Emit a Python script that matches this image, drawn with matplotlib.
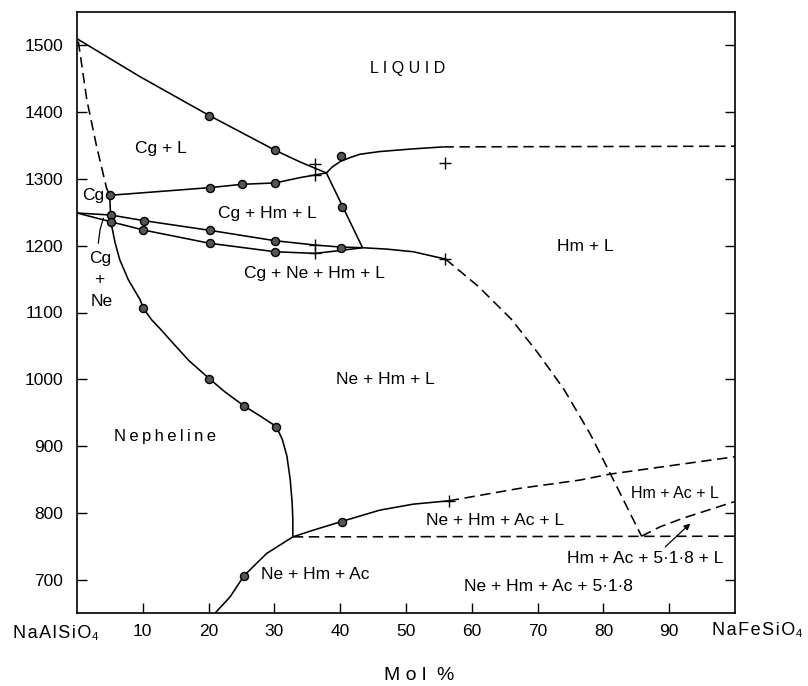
import matplotlib
matplotlib.use("Agg")
import matplotlib.pyplot as plt

plt.rcParams['font.family'] = ['Liberation Sans', 'DejaVu Sans']

# ---------------- data (mol % NaFeSiO4, temperature °C) ----------------
# Cg + L liquidus (solid)
cg_liq_x = [0, 9.6, 20.1, 30.1, 34.0, 37.9]
cg_liq_t = [1510, 1453, 1395, 1343, 1325, 1309]

# Dashed Cg solidus from NaAlSiO4 melting point to Cg point
cg_sol_x = [0.2, 1.5, 3.0, 4.5, 4.97]
cg_sol_t = [1506, 1418, 1348, 1286, 1275.5]
# short solid link Cg point -> Ne/Cg dots
cg_link_x = [4.97, 5.1]
cg_link_t = [1275.5, 1246]

# upper boundary of Cg + Hm + L (solid)
cghm_x = [4.97, 20.2, 25.1, 30.1, 33.9, 37.9]
cghm_t = [1275.5, 1287, 1292, 1294, 1302, 1309]

# Liquid / Hm + L boundary: solid part then dashed part
hm_liq_x = [37.9, 38.8, 40.0, 41.5, 43.0, 46.0, 51.0, 55.7]
hm_liq_t = [1309, 1318, 1326, 1332, 1337, 1341, 1345, 1348]
hm_liq_dash_x = [55.7, 100]
hm_liq_dash_t = [1348, 1349]

# steep line between the two peritectic points
diag_x = [37.9, 43.4]
diag_t = [1309, 1197]

# pair of curves from 1250 at NaAlSiO4
upper_x = [0, 5.1, 10.2, 20.2, 30.1, 36.2, 40.1, 43.4]
upper_t = [1249, 1246, 1237.5, 1223, 1207.5, 1201, 1198, 1197]
lower_x = [0, 5.1, 10.1, 20.2, 30.1, 36.2, 40.1, 43.4]
lower_t = [1249, 1236, 1223.5, 1203.6, 1191, 1188.5, 1193, 1197]

# nepheline liquidus / solvus (solid)
ne_x = [5.1, 5.3, 5.8, 6.5, 7.8, 9.6, 10.1, 11.35, 12.6, 14.6, 17.0, 20.1,
        22.5, 25.4, 28.0, 30.3, 31.2, 31.9, 32.4, 32.7, 32.8, 32.8]
ne_t = [1236, 1228, 1204, 1179, 1149, 1119, 1106, 1089, 1076, 1054, 1028, 1001,
        981, 960, 944, 929, 910, 885, 850, 815, 790, 764]

# Ne + Hm + L / Ne + Hm + Ac + L boundary
acl_x = [32.8, 35.9, 40.2, 46.0, 51.1, 56.5]
acl_t = [764, 774, 787, 804, 813, 818]
acl_dash_x = [56.5, 67.3, 76.4, 81.0, 100]
acl_dash_t = [818, 836.7, 849, 858, 884]

# horizontal dashed line at ~765
hor_x = [32.8, 100]
hor_t = [764, 765]

# Ne + Hm + Ac upper boundary (solid)
ac_x = [21.0, 23.25, 25.4, 28.8, 32.8]
ac_t = [650, 674, 706, 739, 764]

# Hm + L / Ne + Hm + L boundary: solid then dashed
hml_x = [43.4, 47.0, 51.1, 56.0]
hml_t = [1197, 1195, 1191, 1180]
hml_dash_x = [56.0, 61.0, 66.0, 70.0, 74.0, 78.0, 82.0, 85.8]
hml_dash_t = [1180, 1139, 1090, 1040, 985, 918, 840, 765]

# dashed from eutectic to NaFeSiO4 side
eu_x = [85.8, 88.6, 92.1, 100]
eu_t = [765, 779, 792, 817]

# leader line for Cg + Ne label
lead_x = [3.24, 3.5, 4.0]
lead_t = [1204, 1224, 1241]

# experimental points
dot_x = [20.1, 30.1, 4.97, 20.2, 25.1, 30.1, 40.1, 40.3, 5.1, 5.1, 10.2, 10.1,
         20.2, 20.2, 30.1, 30.1, 40.1, 10.1, 20.1, 25.4, 30.3, 40.2, 25.4]
dot_t = [1395, 1343, 1275.5, 1287, 1292, 1294, 1334, 1258, 1246, 1236, 1237.5,
         1223.5, 1223, 1203.6, 1207.5, 1191, 1197, 1106, 1001, 960, 929, 787, 706]
cross_x = [36.2, 36.2, 36.2, 36.2, 55.9, 56.0, 56.5]
cross_t = [1323, 1306, 1201, 1188.5, 1324, 1180, 818]

xticks = [10, 20, 30, 40, 50, 60, 70, 80, 90]
yticks = [700, 800, 900, 1000, 1100, 1200, 1300, 1400, 1500]

# ---------------- drawing ----------------
fig = plt.figure(figsize=(8.08, 6.86), dpi=100)
ax = fig.add_axes([77 / 808, 1 - 613 / 686, (735 - 77) / 808, (613 - 12) / 686])
ax.set_xlim(0, 100)
ax.set_ylim(650, 1550)

lw = 1.15
dash = (0, (6.5, 3.5))
solid = dict(color='k', lw=lw, solid_capstyle='butt', solid_joinstyle='round')
dashed = dict(color='k', lw=lw, linestyle=dash)

ax.plot(cg_liq_x, cg_liq_t, **solid)
ax.plot(cg_sol_x, cg_sol_t, **dashed)
ax.plot(cg_link_x, cg_link_t, **solid)
ax.plot(cghm_x, cghm_t, **solid)
ax.plot(hm_liq_x, hm_liq_t, **solid)
ax.plot(hm_liq_dash_x, hm_liq_dash_t, **dashed)
ax.plot(diag_x, diag_t, **solid)
ax.plot(upper_x, upper_t, **solid)
ax.plot(lower_x, lower_t, **solid)
ax.plot(ne_x, ne_t, **solid)
ax.plot(acl_x, acl_t, **solid)
ax.plot(acl_dash_x, acl_dash_t, **dashed)
ax.plot(hor_x, hor_t, **dashed)
ax.plot(ac_x, ac_t, **solid)
ax.plot(hml_x, hml_t, **solid)
ax.plot(hml_dash_x, hml_dash_t, **dashed)
ax.plot(eu_x, eu_t, **dashed)
ax.plot(lead_x, lead_t, color='k', lw=0.9)

ax.plot(dot_x, dot_t, 'o', ms=5.8, mfc='#555555', mec='k', mew=1.0, zorder=5)
ax.plot(cross_x, cross_t, '+', ms=8, color='k', mew=1.0, zorder=5)

ax.annotate('', xy=(93.2, 784), xytext=(89.4, 749),
            arrowprops=dict(arrowstyle='-|>', lw=0.9, color='k',
                            mutation_scale=9, shrinkA=0, shrinkB=0))

fs = 12.5
hs = '\u200a'
def spaced(s, sep='\u2009'):
    return sep.join(list(s))

ax.text(50.3, 1466, 'L I Q U I D', fontsize=11.5, ha='center', va='center')
ax.text(12.8, 1346, 'Cg + L', fontsize=fs, ha='center', va='center')
ax.text(2.4, 1275, 'Cg', fontsize=fs, ha='center', va='center')
ax.text(28.9, 1249, 'Cg + Hm + L', fontsize=fs, ha='center', va='center')
ax.text(36.1, 1158, 'Cg + Ne + Hm + L', fontsize=fs, ha='center', va='center')
ax.text(3.5, 1181, 'Cg', fontsize=fs, ha='center', va='center')
ax.text(3.4, 1149, '+', fontsize=fs, ha='center', va='center')
ax.text(3.75, 1116, 'Ne', fontsize=fs, ha='center', va='center')
ax.text(13.4, 914, spaced('Nepheline'), fontsize=12, ha='center', va='center')
ax.text(46.8, 1000, 'Ne + Hm + L', fontsize=fs, ha='center', va='center')
ax.text(77.2, 1199, 'Hm + L', fontsize=fs, ha='center', va='center')
ax.text(63.5, 789, 'Ne + Hm + Ac + L', fontsize=fs, ha='center', va='center')
ax.text(36.2, 708, 'Ne + Hm + Ac', fontsize=fs, ha='center', va='center')
ax.text(71.7, 689, 'Ne + Hm + Ac + 5·1·8', fontsize=fs, ha='center', va='center')
ax.text(90.9, 829, 'Hm + Ac + L', fontsize=11.5, ha='center', va='center')
ax.text(86.3, 732, 'Hm + Ac + 5·1·8 + L', fontsize=fs, ha='center', va='center')

# axes styling
for sp in ax.spines.values():
    sp.set_linewidth(1.2)
ax.set_xticks(xticks)
ax.set_xticklabels([str(v) for v in xticks])
ax.set_yticks(yticks)
ax.set_yticklabels([str(v) for v in yticks])
ax.tick_params(axis='x', direction='in', length=7, width=1, top=False,
               pad=8, labelsize=12.5)
ax.tick_params(axis='y', direction='in', length=7, width=1, right=True,
               pad=10, labelsize=12.5)

xtr = ax.get_xaxis_transform()
ax.text(-3.2, -0.034, spaced('NaAlSiO', hs) + '\u2084', transform=xtr, fontsize=13,
        ha='center', va='center', clip_on=False)
ax.text(103.4, -0.029, spaced('NaFeSiO', hs) + '\u2084', transform=xtr, fontsize=13,
        ha='center', va='center', clip_on=False)
ax.text(52.0, -0.104, 'M o l  %', transform=xtr, fontsize=14,
        ha='center', va='center', clip_on=False)

fig.savefig('out.png', dpi=100, facecolor='white')
